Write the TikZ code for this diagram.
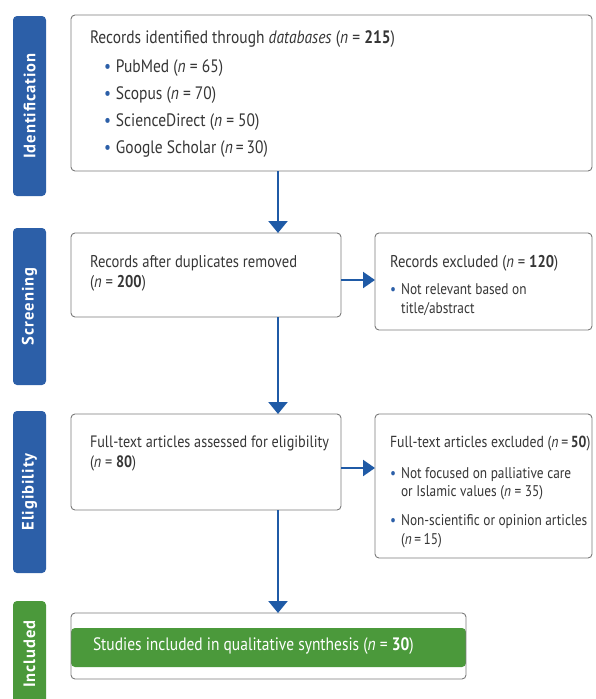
\documentclass[tikz,border=0pt]{standalone}
\usepackage{fontspec}
\setmainfont{PT Sans}[FakeStretch=0.86]
\newfontfamily\phasefont{PT Sans}[LetterSpace=6]
\usetikzlibrary{arrows.meta,positioning}
\definecolor{phaseblue}{HTML}{2C5FA8}
\definecolor{arrowblue}{HTML}{1F5AA6}
\definecolor{inclgreen}{HTML}{4B993B}
\definecolor{boxline}{HTML}{7A7A7A}
\definecolor{txtgray}{HTML}{363636}
\tikzset{
  box/.style={draw=boxline,rounded corners=4pt,fill=white,line width=0.9pt,
    anchor=north west,inner xsep=19pt,inner ysep=22pt,outer sep=0pt,text=txtgray,
    font=\fontsize{17}{20}\selectfont},
  sidebox/.style={box,inner xsep=15pt},
  phase/.style={fill=phaseblue,rounded corners=4pt,rotate=90,inner sep=0pt,
    minimum height=33pt,text=white,font=\phasefont\bfseries\fontsize{16.5}{17}\selectfont},
  arrow/.style={-{Triangle[length=12pt,width=19pt]},arrowblue,line width=2.2pt},
  sidearrow/.style={-{Triangle[length=12pt,width=16pt]},arrowblue,line width=2.2pt}
}
\newcommand{\bul}{\textcolor{phaseblue}{\textbullet}\hspace{5pt}}
\newcommand{\nobul}{\phantom{\textbullet}\hspace{5pt}}
\newcommand{\itemfont}{\fontsize{15.5}{18.5}\selectfont}
\newcommand{\boxtext}[3]{\parbox[c][#1][t]{#2}{\raggedright #3}}

\begin{document}
\begin{tikzpicture}[x=1pt,y=-1pt]
\useasboundingbox (0,0) rectangle (595,699);
% phase bars
\node[phase,minimum width=180pt] (pid) at (29.5,106) {Identification};
\node[phase,minimum width=157pt] (psc) at (29.5,306.5) {Screening};
\node[phase,minimum width=162pt] (pel) at (29.5,492) {Eligibility};
\node[phase,fill=inclgreen,minimum width=106pt] (pin) at (29.5,654) {Included};
% boxes
\node[box,inner ysep=16pt,font=\fontsize{18}{20}\selectfont] (ident) at (71,15) {\boxtext{124pt}{483pt}{%
  Records identified through \textit{databases} (\textit{n} = \textbf{215})\\[9pt]
  \hspace*{14pt}\bul PubMed (\textit{n} = 65)\\[7pt]
  \hspace*{14pt}\bul Scopus (\textit{n} = 70)\\[7pt]
  \hspace*{14pt}\bul ScienceDirect (\textit{n} = 50)\\[7pt]
  \hspace*{14pt}\bul Google Scholar (\textit{n}\,=\,30)}};
\node[box,below=62pt of ident.south west,anchor=north west] (dup) {\boxtext{40pt}{232pt}{%
  Records after duplicates removed\\
  (\textit{n} = \textbf{200})}};
\node[sidebox,right=34pt of dup.north east,anchor=north west] (excl) {\boxtext{53pt}{187pt}{%
  Records excluded (\textit{n} = \textbf{120})\par\vspace{9pt}
  {\itemfont\bul Not relevant based on\\
  \nobul title/abstract\par}}};
\node[box,below=97pt of dup.south west,anchor=north west,font=\fontsize{16.5}{20}\selectfont] (elig)
  {\boxtext{52pt}{232pt}{%
  \mbox{Full-text articles assessed for eligibility}\\
  (\textit{n} = \textbf{80})}};
\node[sidebox,right=34pt of elig.north east,anchor=north west] (ftex) {\boxtext{100pt}{187pt}{%
  \makebox[187pt][l]{\fontsize{16}{20}\selectfont Full-text articles excluded (\textit{n}\,=\,\textbf{50})}\par\vspace{12.5pt}
  {\itemfont\bul Not focused on palliative care\\
  \nobul or Islamic values (\textit{n} = 35)\\[10.5pt]
  \mbox{\bul Non-scientific or opinion articles}\\
  \nobul (\textit{n}\,=\,15)\par}}};
\node[box,below=103pt of elig.south west,anchor=north west,inner xsep=22pt,inner ysep=0pt,
  minimum height=66pt,text=white,font=\fontsize{18}{20}\selectfont,
  path picture={\fill[inclgreen] ([yshift=-15pt]path picture bounding box.north west)
    rectangle ([yshift=12pt]path picture bounding box.south east);}] (incl)
  {\parbox{351pt}{Studies included in qualitative synthesis (\textit{n} = \textbf{30})}};
% arrows
\coordinate (spine) at (278,0);
\draw[arrow] (ident.south -| spine) -- (dup.north -| spine);
\draw[arrow] (dup.south -| spine) -- (elig.north -| spine);
\draw[arrow] (elig.south -| spine) -- (incl.north -| spine);
\draw[sidearrow] ([yshift=-5pt]dup.east) -- ([yshift=-5pt]dup.east -| excl.west);
\draw[sidearrow] ([yshift=-6pt]elig.east) -- ([yshift=-6pt]elig.east -| ftex.west);
\end{tikzpicture}
\end{document}
